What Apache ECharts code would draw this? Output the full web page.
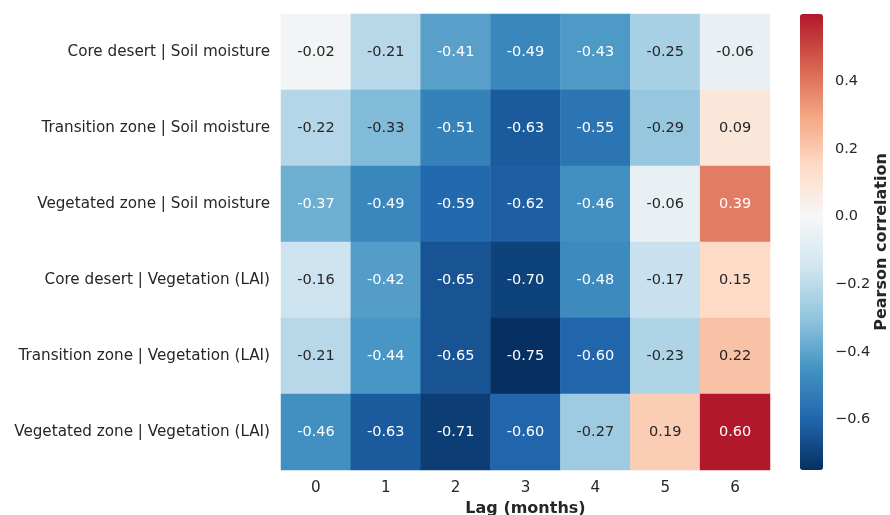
<!DOCTYPE html>
<html>
<head>
<meta charset="utf-8">
<script src="https://cdn.jsdelivr.net/npm/echarts@6/dist/echarts.min.js"></script>
<style>
  html, body { margin: 0; padding: 0; background: #fff; }
  #chart { width: 890px; height: 515px; }
</style>
</head>
<body>
<div id="chart"></div>
<script>
// rows top -> bottom
const rowLabels = [
  'Core desert | Soil moisture',
  'Transition zone | Soil moisture',
  'Vegetated zone | Soil moisture',
  'Core desert | Vegetation (LAI)',
  'Transition zone | Vegetation (LAI)',
  'Vegetated zone | Vegetation (LAI)'
];
const lags = ['0', '1', '2', '3', '4', '5', '6'];
const corr = [
  [-0.02, -0.21, -0.41, -0.49, -0.43, -0.25, -0.06],
  [-0.22, -0.33, -0.51, -0.63, -0.55, -0.29, 0.09],
  [-0.37, -0.49, -0.59, -0.62, -0.46, -0.06, 0.39],
  [-0.16, -0.42, -0.65, -0.70, -0.48, -0.17, 0.15],
  [-0.21, -0.44, -0.65, -0.75, -0.60, -0.23, 0.22],
  [-0.46, -0.63, -0.71, -0.60, -0.27, 0.19, 0.60]
];
const cbTicks = [-0.6, -0.4, -0.2, 0, 0.2, 0.4];
const vMin = -0.75, vMax = 0.60;

// RdBu_r centred at 0, sampled every 0.15 from -0.75 to 0.60
const palette = ['#053061', '#2166ac', '#4393c3', '#92c5de', '#d1e5f0',
                 '#f7f7f7', '#fddbc7', '#f4a582', '#d6604d', '#b2182b'];

const font = 'DejaVu Sans';
const dark = '#262626';
const fs = 15.2;

const data = [];
corr.forEach((row, i) => {
  row.forEach((v, j) => {
    data.push({
      value: [j, i, v],
      label: { color: (v <= -0.35 || v >= 0.35) ? '#ffffff' : dark }
    });
  });
});

const chart = echarts.init(document.getElementById('chart'));
chart.setOption({
  backgroundColor: '#fff',
  animation: false,
  textStyle: { fontFamily: font },
  grid: [
    { left: 281, right: 120, top: 14, bottom: 45, outerBoundsMode: 'none' },
    { left: 800, width: 23, top: 14, height: 456, outerBoundsMode: 'none' }
  ],
  xAxis: [{
    type: 'category', data: lags, gridIndex: 0,
    axisLine: { show: false }, axisTick: { show: false }, splitLine: { show: false },
    axisLabel: { color: dark, fontSize: fs, margin: 11, fontFamily: font },
    name: 'Lag (months)', nameLocation: 'middle', nameGap: 30,
    nameTextStyle: { color: dark, fontSize: 16, fontWeight: 'bold', fontFamily: font }
  }, {
    type: 'value', gridIndex: 1, show: false, min: 0, max: 1
  }],
  yAxis: [{
    type: 'category', data: rowLabels, inverse: true, gridIndex: 0,
    axisLine: { show: false }, axisTick: { show: false }, splitLine: { show: false },
    axisLabel: { color: dark, fontSize: fs, margin: 11, fontFamily: font }
  }, {
    type: 'value', gridIndex: 1, position: 'right', min: vMin, max: vMax,
    axisLine: { show: false }, splitLine: { show: false },
    axisTick: { show: true, length: 5, customValues: cbTicks, lineStyle: { color: dark, width: 1.2 } },
    axisLabel: {
      customValues: cbTicks, color: dark, fontSize: 14.5, margin: 12, fontFamily: font,
      formatter: v => (v < 0 ? '\u2212' : '') + Math.abs(v).toFixed(1)
    },
    name: 'Pearson correlation', nameLocation: 'middle', nameRotate: 90, nameGap: 51,
    nameTextStyle: { color: dark, fontSize: 16, fontWeight: 'bold', fontFamily: font }
  }],
  visualMap: {
    type: 'continuous', min: vMin, max: vMax, seriesIndex: 0,
    calculable: false, left: 800, top: 14, padding: 0,
    itemWidth: 23, itemHeight: 456, text: ['', ''], showLabel: false,
    inRange: { color: palette }
  },
  series: [{
    type: 'heatmap', xAxisIndex: 0, yAxisIndex: 0,
    data: data,
    label: {
      show: true, fontSize: 14.5, fontFamily: font,
      formatter: p => p.value[2].toFixed(2)
    },
    itemStyle: { borderWidth: 0 },
    emphasis: { disabled: true }
  }]
});
</script>
</body>
</html>
